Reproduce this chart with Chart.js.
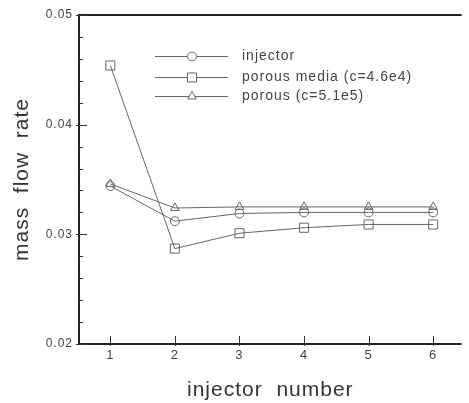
<!DOCTYPE html>
<html>
<head>
<meta charset="utf-8">
<script src="https://cdn.jsdelivr.net/npm/chart.js@4"></script>
<style>
	html, body { margin: 0; padding: 0; background: #fff; }
	#wrap { width: 469px; height: 403px; }
</style>
</head>
<body>
<div id="wrap"><canvas id="chart" width="469" height="403"></canvas></div>
<script>
// injector positions
var injectors = [1, 2, 3, 4, 5, 6];

// mass flow rate per series
var injectorVals = [0.0344, 0.0312, 0.0319, 0.0320, 0.0320, 0.0320];
var porousMediaVals = [0.0454, 0.0287, 0.0301, 0.0306, 0.0309, 0.0309];
var porousVals = [0.0346, 0.0324, 0.0325, 0.0325, 0.0325, 0.0325];

var seriesNames = ['injector', 'porous media (c=4.6e4)', 'porous (c=5.1e5)'];
var yMajorTicks = [0.02, 0.03, 0.04, 0.05];

var lineColor = '#666';
var axisColor = '#222';
var textColor = '#444';
var fontFamily = '"Liberation Sans", Arial, sans-serif';

// marker sizes so circle, square and triangle look alike
var markerSize = { circle: 4.5, rect: 6.4, triangle: 5 };

function toPoints(vals){
	return injectors.map(function(x, i){ return {x: x, y: vals[i]}; });
}

function makeSet(label, vals, style){
	return {
		label: label,
		data: toPoints(vals),
		borderColor: lineColor,
		borderWidth: 1,
		pointStyle: style,
		pointRadius: markerSize[style],
		pointBackgroundColor: 'rgba(255,255,255,0)',
		pointBorderColor: lineColor,
		pointBorderWidth: 1,
		tension: 0
	};
}

// the scanned figure has loose letter spacing
var spacingPlugin = {
	id: 'spacing',
	beforeLayout: function(chart){ chart.ctx.letterSpacing = '1px'; },
	beforeDraw: function(chart){ chart.ctx.letterSpacing = '1px'; }
};

// axes frame, inward ticks and the legend box
var framePlugin = {
	id: 'frame',
	afterDraw: function(chart){
		var ctx = chart.ctx;
		var a = chart.chartArea;
		var xs = chart.scales.x;
		var ys = chart.scales.y;
		ctx.save();
		ctx.strokeStyle = axisColor;
		ctx.lineWidth = 2;
		ctx.beginPath();
		ctx.moveTo(a.right, a.top);
		ctx.lineTo(a.left, a.top);
		ctx.lineTo(a.left, a.bottom);
		ctx.lineTo(a.right, a.bottom);
		ctx.stroke();

		ctx.lineWidth = 1;
		ctx.strokeStyle = '#333';
		// y minor + major ticks
		for (var k = 0; k <= 15; k++){
			var v = 0.02 + k * 0.002;
			var py = Math.round(ys.getPixelForValue(v)) + 0.5;
			var major = (k % 5 === 0);
			ctx.beginPath();
			ctx.moveTo(a.left - (major ? 3 : 0), py);
			ctx.lineTo(a.left + (major ? 8 : 4), py);
			ctx.stroke();
		}
		// x ticks
		injectors.forEach(function(x){
			var px = Math.round(xs.getPixelForValue(x)) + 0.5;
			ctx.beginPath();
			ctx.moveTo(px, a.bottom + 2);
			ctx.lineTo(px, a.bottom - 8);
			ctx.stroke();
		});

		// legend
		var styles = ['circle', 'rect', 'triangle'];
		var rows = [56, 77, 96];
		ctx.font = '14px ' + fontFamily;
		ctx.letterSpacing = '1px';
		ctx.textBaseline = 'middle';
		rows.forEach(function(ry, i){
			ctx.strokeStyle = lineColor;
			ctx.lineWidth = 1;
			ctx.beginPath();
			ctx.moveTo(155, ry + 0.5);
			ctx.lineTo(228, ry + 0.5);
			ctx.stroke();
			ctx.fillStyle = '#fff';
			Chart.helpers.drawPoint(ctx, {pointStyle: styles[i], radius: markerSize[styles[i]], borderWidth: 1}, 192, ry + 0.5);
			ctx.fillStyle = textColor;
			ctx.fillText(seriesNames[i], 242, ry);
		});
		ctx.restore();
	}
};

var chart = new Chart(document.getElementById('chart'), {
	type: 'line',
	data: {
		datasets: [
			makeSet(seriesNames[0], injectorVals, 'circle'),
			makeSet(seriesNames[1], porousMediaVals, 'rect'),
			makeSet(seriesNames[2], porousVals, 'triangle')
		]
	},
	options: {
		responsive: false,
		animation: false,
		layout: { padding: { top: 15, right: 0, left: 0, bottom: 0 } },
		plugins: { legend: { display: false }, tooltip: { enabled: false } },
		scales: {
			x: {
				type: 'linear',
				min: 0.515,
				max: 6.44,
				grid: { display: false, drawTicks: false },
				border: { display: false },
				afterBuildTicks: function(s){ s.ticks = injectors.map(function(v){ return {value: v}; }); },
				afterFit: function(s){ s.height = 59; },
				ticks: {
					color: textColor,
					font: { size: 13, family: fontFamily },
					padding: 4,
					maxRotation: 0,
					callback: function(v){ return String(v); }
				},
				title: {
					display: true,
					text: 'injector  number',
					color: '#333',
					font: { size: 21, family: fontFamily },
					padding: { top: 1, bottom: 0 }
				}
			},
			y: {
				min: 0.02,
				max: 0.05,
				grid: { display: false, drawTicks: false },
				border: { display: false },
				afterBuildTicks: function(s){ s.ticks = yMajorTicks.map(function(v){ return {value: v}; }); },
				afterFit: function(s){ s.width = 79; },
				ticks: {
					color: textColor,
					font: { size: 12, family: fontFamily },
					padding: 6,
					callback: function(v){ return v.toFixed(2); }
				},
				title: {
					display: true,
					text: 'mass  flow  rate',
					color: '#333',
					font: { size: 21, family: fontFamily },
					padding: { top: 10, bottom: 0 }
				}
			}
		}
	},
	plugins: [spacingPlugin, framePlugin]
});
</script>
</body>
</html>
